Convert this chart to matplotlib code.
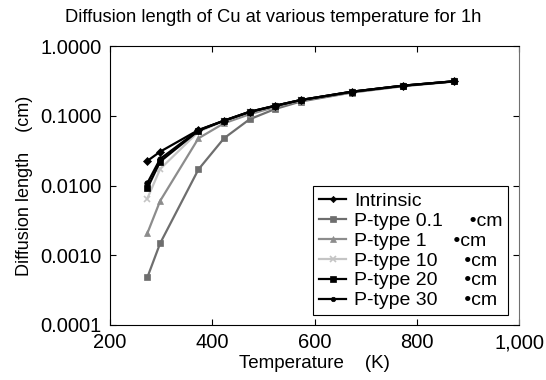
import matplotlib
matplotlib.use("Agg")
import matplotlib.pyplot as plt
from matplotlib.ticker import FixedLocator, FuncFormatter, NullLocator

plt.rcParams['font.family'] = ['Liberation Sans', 'DejaVu Sans']

temperature = [273, 298, 373, 423, 473, 523, 573, 673, 773, 873]
intrinsic = [0.0225, 0.0305, 0.0625, 0.085, 0.114, 0.139, 0.168, 0.221, 0.27, 0.312]
ptype_01 = [0.00048, 0.00148, 0.017, 0.0475, 0.089, 0.125, 0.16, 0.215, 0.265, 0.31]
ptype_1 = [0.00206, 0.006, 0.0475, 0.078, 0.105, 0.133, 0.165, 0.219, 0.268, 0.311]
ptype_10 = [0.0065, 0.0172, 0.059, 0.084, 0.112, 0.138, 0.167, 0.22, 0.269, 0.312]
ptype_20 = [0.0091, 0.022, 0.061, 0.085, 0.113, 0.139, 0.168, 0.221, 0.27, 0.312]
ptype_30 = [0.0108, 0.024, 0.062, 0.085, 0.114, 0.139, 0.168, 0.221, 0.27, 0.312]

labels = ["Intrinsic", "P-type 0.1     \u2022cm", "P-type 1     \u2022cm",
          "P-type 10     \u2022cm", "P-type 20     \u2022cm", "P-type 30     \u2022cm"]
x_ticks = [200, 400, 600, 800, 1000]
y_ticks = [0.0001, 0.001, 0.01, 0.1, 1.0]

fig = plt.figure(figsize=(5.46, 3.8), dpi=100)
ax = fig.add_axes([110/546, 1-325/380, (519-110)/546, (325-46)/380])

series = [
    (intrinsic, '#000000', 'D', 4),
    (ptype_01, '#6e6e6e', 's', 5),
    (ptype_1, '#8c8c8c', '^', 5),
    (ptype_10, '#c4c4c4', 'x', 5),
    (ptype_20, '#000000', 's', 5),
    (ptype_30, '#000000', 'o', 4),
]
order = [1, 2, 3, 0, 4, 5]
handles = [None]*6
for i in order:
    vals, col, mk, ms = series[i]
    h, = ax.plot(temperature, vals, color=col, marker=mk, markersize=ms,
                 linewidth=1.6, markeredgewidth=1.2 if mk == 'x' else 0.5,
                 markeredgecolor=col, label=labels[i])
    handles[i] = h

ax.set_yscale('log')
ax.set_xlim(200, 1000)
ax.set_ylim(0.0001, 1.0)
ax.xaxis.set_major_locator(FixedLocator(x_ticks))
ax.yaxis.set_major_locator(FixedLocator(y_ticks))
ax.yaxis.set_minor_locator(NullLocator())
ax.xaxis.set_major_formatter(FuncFormatter(lambda v, p: f"{int(v):,}"))
ax.yaxis.set_major_formatter(FuncFormatter(lambda v, p: f"{v:.4f}"))
ax.tick_params(direction='in', top=True, right=True, length=4, width=0.8,
               labelsize=14.5, pad=6, colors='#000000')
for s in ['top', 'left', 'bottom']:
    ax.spines[s].set_color('#000000')
ax.spines['right'].set_color('#707070')

ax.set_xlabel("Temperature    (K)", fontsize=13.5, labelpad=2)
ax.set_ylabel("Diffusion length    (cm)", fontsize=13, labelpad=5)
fig.text(0.5, 1-18/380, "Diffusion length of Cu at various temperature for 1h",
         ha='center', va='center', fontsize=13.2)

leg = ax.legend(handles=handles, loc='lower right', bbox_to_anchor=(0.974, 0.035),
                fontsize=14, frameon=True, fancybox=False, framealpha=1,
                edgecolor='#000000', handlelength=1.4, handletextpad=0.4,
                labelspacing=0.12, borderpad=0.3, borderaxespad=0.0,
                markerscale=0.8)
leg.get_frame().set_linewidth(0.8)

fig.savefig("out.png", dpi=100)
